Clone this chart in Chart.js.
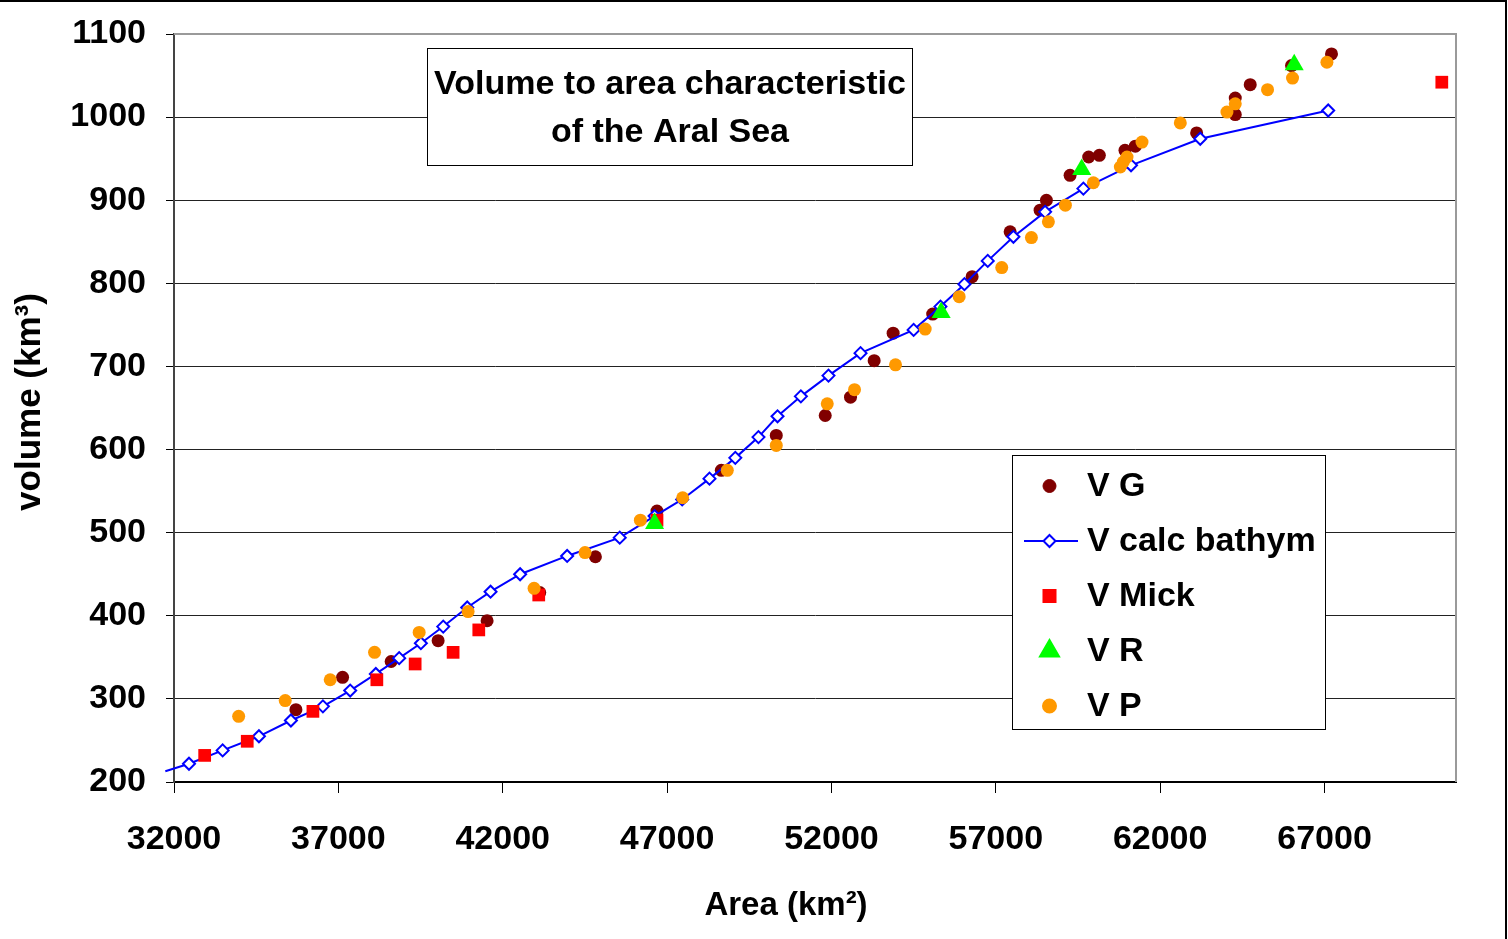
<!DOCTYPE html>
<html lang="en">
<head>
<meta charset="UTF-8">
<title>Volume to area characteristic of the Aral Sea</title>
<script src="https://cdn.jsdelivr.net/npm/chart.js@4.4.0/dist/chart.umd.min.js"></script>
<style>
  html, body { margin: 0; padding: 0; background: #fff; }
  #wrap { position: relative; width: 1508px; height: 939px; }
  #aral { display: block; }
</style>
</head>
<body>
<div id="wrap"><canvas id="aral" width="1508" height="939"></canvas></div>
<script>
// values (area km2, volume km3)
const vgArea = [35709, 37128, 38606, 40035, 41525, 43126, 44820, 46693, 48650, 50322, 51811, 52580, 53300, 53877, 55080, 56280,
  57436, 58348, 58540, 59260, 59826, 60150, 60930, 61245, 63110, 64285, 64285, 64740, 65997, 67213];
const vgVolume = [287, 326, 345, 370, 394, 428, 471, 526, 575, 617, 641, 663, 707, 740, 763, 808,
  862, 888, 900, 930, 952, 954, 960, 965, 981, 1023, 1003, 1039, 1062, 1076];

const calcArea = [31736, 32456, 33480, 34584, 35557, 36530, 37360, 38140, 38850, 39510, 40190, 40920, 41630, 42530, 43960,
  45560, 46620, 47460, 48290, 49075, 49780, 50360, 51070, 51910, 52885, 54500, 55316, 56046, 56755, 57536, 58500, 59664,
  61114, 63220, 67112];
const calcVolume = [213, 222, 238, 255, 274, 291, 310, 330, 349, 367, 387, 410, 429, 450, 472,
  494, 520, 540, 565, 590, 615, 640, 664, 689, 716, 744, 772, 799, 827, 856, 886, 914,
  942, 974, 1008];

const mickArea = [32933, 34228, 36226, 38171, 39336, 40491, 41272, 43096, 46693, 70568];
const mickVolume = [232, 249, 285, 323, 342, 356, 383, 425, 515, 1042];

const rArea = [46620, 55338, 59614, 66078];
const rVolume = [511, 765, 937, 1063];

const pArea = [33967, 35384, 36752, 38101, 39458, 40947, 42954, 44504, 46188, 47474, 48832, 50322, 51873, 52702, 53949,
  54852, 55886, 57181, 58083, 58600, 59117, 59968, 60789, 60880, 60992, 61448, 62613, 64032, 64285, 65267, 66027, 67073];
const pVolume = [279, 298, 323, 356, 380, 405, 433, 476, 515, 542, 575, 605, 655, 672, 702,
  745, 784, 819, 855, 874, 894, 921, 940, 946, 952, 970, 993, 1006, 1016, 1033, 1047, 1066];

const xTicks = [32000, 37000, 42000, 47000, 52000, 57000, 62000, 67000];
const seriesNames = ['V G', 'V calc bathym', 'V Mick', 'V R', 'V P'];
const titleLines = ['Volume to area characteristic', 'of the Aral Sea'];
const xTitle = 'Area (km²)';
const yTitle = 'volume (km³)';

const FONT = '"Liberation Sans", Arial, Helvetica, sans-serif';

function pts(xs, ys) {
  return xs.map((x, i) => ({ x: x, y: ys[i] }));
}

// little marker painter for the legend
function marker(ctx, ds, x, y, r) {
  ctx.save();
  ctx.fillStyle = ds.pointBackgroundColor;
  ctx.strokeStyle = ds.pointBorderColor || ds.pointBackgroundColor;
  ctx.lineWidth = ds.pointBorderWidth || 0;
  ctx.beginPath();
  if (ds.pointStyle === 'circle') {
    ctx.arc(x, y, r, 0, Math.PI * 2);
  } else if (ds.pointStyle === 'rect') {
    const s = r * Math.SQRT1_2;
    ctx.rect(x - s, y - s, 2 * s, 2 * s);
  } else if (ds.pointStyle === 'triangle') {
    ctx.moveTo(x, y - r);
    ctx.lineTo(x + r * 0.866, y + r * 0.5);
    ctx.lineTo(x - r * 0.866, y + r * 0.5);
    ctx.closePath();
  } else if (ds.pointStyle === 'rectRot') {
    ctx.moveTo(x, y - r);
    ctx.lineTo(x + r, y);
    ctx.lineTo(x, y + r);
    ctx.lineTo(x - r, y);
    ctx.closePath();
  }
  ctx.fill();
  if (ctx.lineWidth > 0) ctx.stroke();
  ctx.restore();
}

const boxesPlugin = {
  id: 'boxes',
  beforeDatasetsDraw(chart) {
    const ctx = chart.ctx, a = chart.chartArea;
    ctx.save();
    // grey frame of the plot area, top and right
    ctx.strokeStyle = '#9a9a9a';
    ctx.lineWidth = 2;
    ctx.beginPath();
    ctx.moveTo(a.left, a.top);
    ctx.lineTo(a.right, a.top);
    ctx.lineTo(a.right, a.bottom);
    ctx.stroke();
    // outer chart frame
    ctx.strokeStyle = '#000';
    ctx.beginPath();
    ctx.moveTo(0, 1);
    ctx.lineTo(1506, 1);
    ctx.lineTo(1506, 939);
    ctx.stroke();

    // axis titles
    ctx.fillStyle = '#000';
    ctx.textAlign = 'center';
    ctx.textBaseline = 'middle';
    ctx.font = 'bold 33px ' + FONT;
    ctx.fillText(xTitle, 786, 906);
    ctx.translate(30, 402);
    ctx.rotate(-Math.PI / 2);
    ctx.font = 'bold 35px ' + FONT;
    ctx.fillText(yTitle, 0, 0);
    ctx.restore();
  },
  afterDatasetsDraw(chart) {
    const ctx = chart.ctx;
    ctx.save();
    ctx.font = 'bold 34px ' + FONT;
    ctx.textBaseline = 'middle';

    // title box
    ctx.fillStyle = '#fff';
    ctx.fillRect(427.5, 48.5, 485, 117);
    ctx.strokeStyle = '#000';
    ctx.lineWidth = 1;
    ctx.strokeRect(427.5, 48.5, 485, 117);
    ctx.fillStyle = '#000';
    ctx.textAlign = 'center';
    ctx.fillText(titleLines[0], 670, 85);
    ctx.fillText(titleLines[1], 670, 133);

    // legend box
    ctx.fillStyle = '#fff';
    ctx.fillRect(1012.5, 455.5, 313, 274);
    ctx.strokeStyle = '#000';
    ctx.strokeRect(1012.5, 455.5, 313, 274);
    ctx.textAlign = 'left';
    const rows = [486, 541, 596, 651, 706];
    const legendR = { circle: 6.5, rectRot: 6, rect: 8.5, triangle: 11 };
    chart.data.datasets.forEach((ds, i) => {
      const y = rows[i];
      if (ds.showLine) {
        ctx.strokeStyle = ds.borderColor;
        ctx.lineWidth = ds.borderWidth;
        ctx.beginPath();
        ctx.moveTo(1024, y);
        ctx.lineTo(1078, y);
        ctx.stroke();
      }
      marker(ctx, ds, 1049.5, y, legendR[ds.pointStyle]);
      ctx.fillStyle = '#000';
      ctx.fillText(seriesNames[i], 1087, y + 1);
    });
    ctx.restore();
  }
};

new Chart(document.getElementById('aral'), {
  type: 'scatter',
  data: {
    datasets: [
      {
        label: seriesNames[0], data: pts(vgArea, vgVolume), order: 5,
        pointStyle: 'circle', pointRadius: 6.5, pointBackgroundColor: '#800000', pointBorderWidth: 0
      },
      {
        label: seriesNames[1], data: pts(calcArea, calcVolume), order: 4,
        showLine: true, borderColor: '#0000ff', borderWidth: 2, tension: 0,
        pointStyle: 'rectRot', pointRadius: c => (c.raw && c.raw.x < 32000 ? 0 : 6),
        pointBackgroundColor: '#fff', pointBorderColor: '#0000ff', pointBorderWidth: 2,
        clip: { left: 12, top: 4, right: 4, bottom: 4 }
      },
      {
        label: seriesNames[2], data: pts(mickArea, mickVolume), order: 3,
        pointStyle: 'rect', pointRadius: 9, pointBackgroundColor: '#ff0000', pointBorderWidth: 0
      },
      {
        label: seriesNames[3], data: pts(rArea, rVolume), order: 2,
        pointStyle: 'triangle', pointRadius: 11, pointBackgroundColor: '#00ff00', pointBorderWidth: 0
      },
      {
        label: seriesNames[4], data: pts(pArea, pVolume), order: 1,
        pointStyle: 'circle', pointRadius: 6.5, pointBackgroundColor: '#ff9900', pointBorderWidth: 0
      }
    ]
  },
  options: {
    responsive: false,
    animation: false,
    devicePixelRatio: 1,
    layout: { padding: { top: 34, right: 52, left: 0, bottom: 0 } },
    plugins: {
      legend: { display: false },
      tooltip: { enabled: false }
    },
    scales: {
      x: {
        type: 'linear',
        min: 32000,
        max: 71000,
        afterBuildTicks: s => { s.ticks = xTicks.map(v => ({ value: v })); },
        afterFit: s => { s.height = 157; s.paddingLeft = 0; s.paddingRight = 0; },
        grid: { drawOnChartArea: false, drawTicks: true, tickLength: 11, color: '#000', lineWidth: 1 },
        border: { color: '#000', width: 2 },
        ticks: {
          color: '#000', padding: 26, maxRotation: 0, autoSkip: false,
          callback: v => String(v),
          font: { family: FONT, size: 34, weight: 'bold' }
        }
      },
      y: {
        min: 200,
        max: 1100,
        afterFit: s => { s.width = 174; s.paddingTop = 0; s.paddingBottom = 0; },
        grid: {
          color: c => (c.tick && c.tick.value === 1100 ? 'rgba(0,0,0,0)' : '#222'),
          lineWidth: 1, drawTicks: true, tickLength: 8, tickColor: '#000'
        },
        border: { color: '#444', width: 2 },
        ticks: {
          stepSize: 100, color: '#000', padding: 20,
          callback: v => String(v),
          font: { family: FONT, size: 34, weight: 'bold' }
        }
      }
    }
  },
  plugins: [boxesPlugin]
});
</script>
</body>
</html>
